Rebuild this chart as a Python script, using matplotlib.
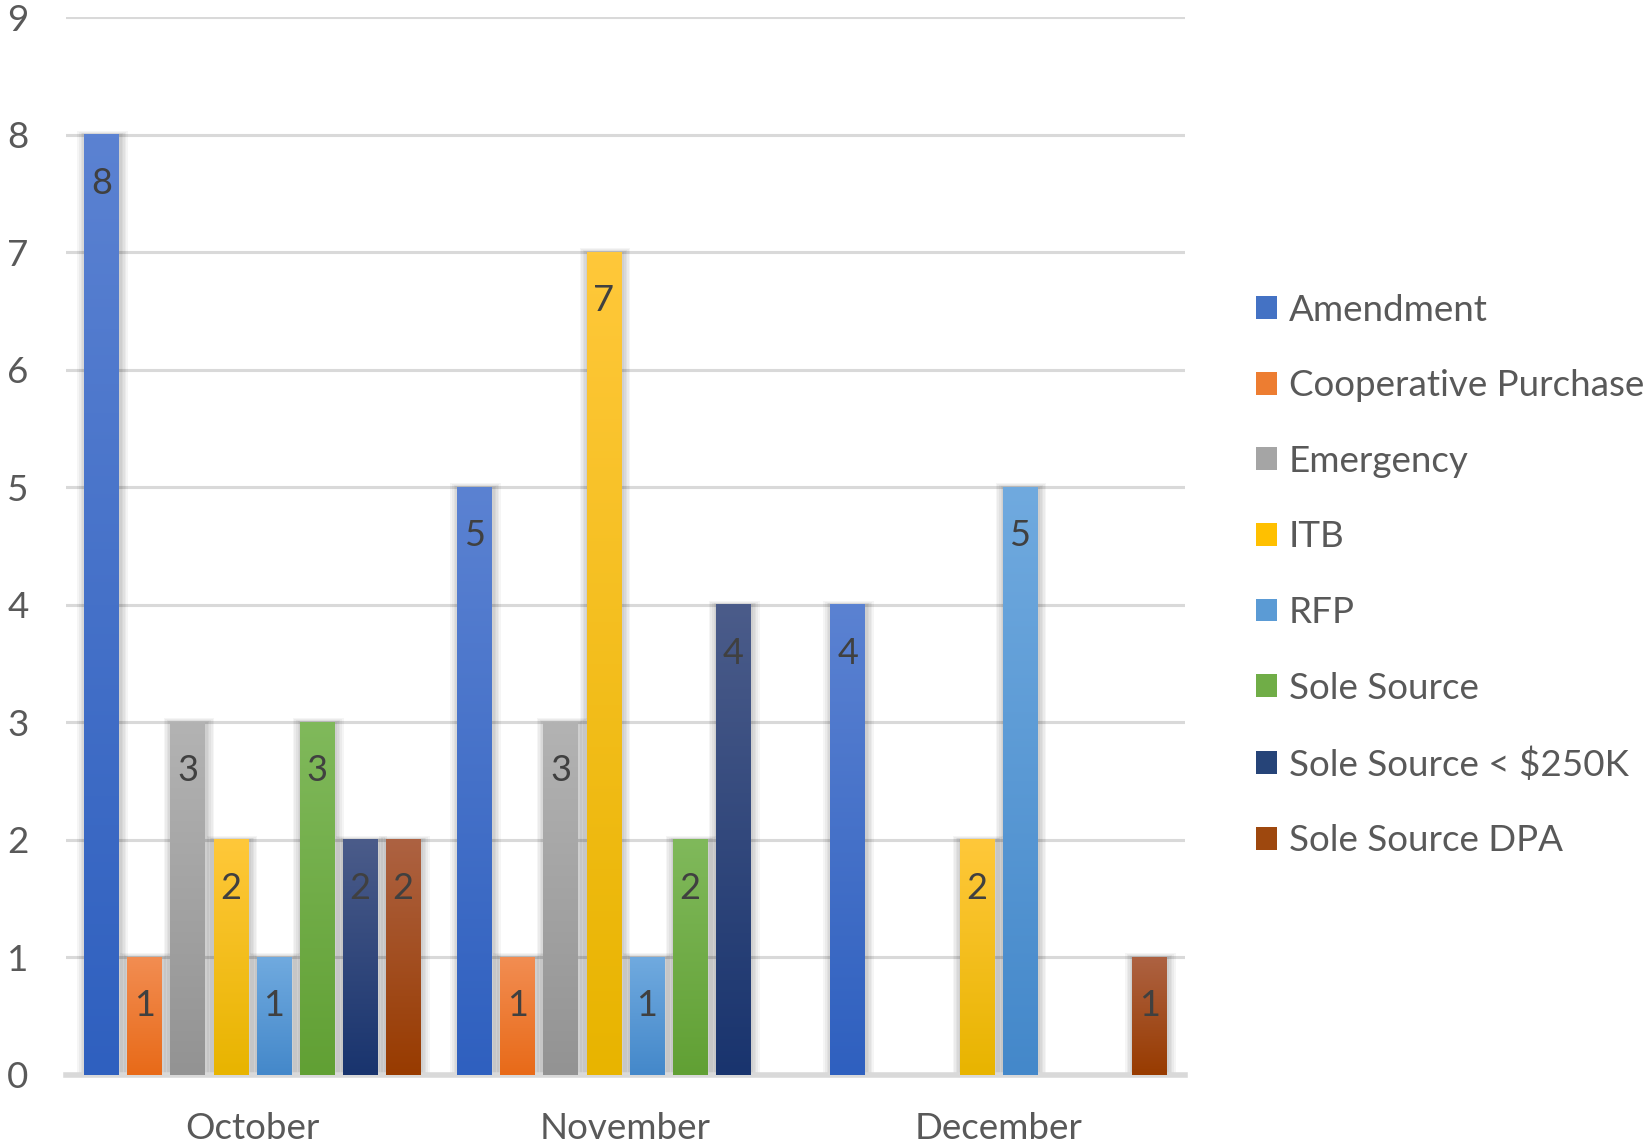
import numpy as np
import matplotlib.pyplot as plt
from matplotlib.colors import LinearSegmentedColormap
from matplotlib.patches import Patch, Rectangle

plt.rcParams['font.family'] = ['Lato', 'DejaVu Sans']

# data
months = ['October', 'November', 'December']
series = ['Amendment', 'Cooperative Purchase', 'Emergency', 'ITB', 'RFP',
          'Sole Source', 'Sole Source < $250K', 'Sole Source DPA']
amendment = [8, 5, 4]
coop = [1, 1, 0]
emergency = [3, 3, 0]
itb = [2, 7, 2]
rfp = [1, 1, 5]
sole = [3, 2, 0]
sole_250 = [2, 4, 0]
sole_dpa = [2, 0, 1]
values = [amendment, coop, emergency, itb, rfp, sole, sole_250, sole_dpa]

# office-like gradient colours, top -> bottom
top_cols = ['#5b82d2', '#f28d52', '#b3b3b3', '#ffc83a', '#70aadf', '#80b95b', '#4b5c8a', '#ad6242']
bot_cols = ['#2f60bf', '#e86a18', '#939393', '#e8b400', '#4488ca', '#61a034', '#19346e', '#983b00']
mid_cols = ['#4472c4', '#ed7d31', '#a5a5a5', '#ffc000', '#5b9bd5', '#70ad47', '#264478', '#9e480e']

fig = plt.figure(figsize=(16.48, 11.47), dpi=100)
ax = fig.add_axes([0.040, 0.0628, 0.679, 0.922])

x = np.arange(len(months))
step = 0.1155
width = 0.093

for i, vals in enumerate(values):
    pos = x + (i - 3.5) * step
    bars = ax.bar(pos, vals, width, color='none', zorder=3)
    cmap = LinearSegmentedColormap.from_list('g%d' % i, [bot_cols[i], top_cols[i]])
    for b, v in zip(bars, vals):
        if v == 0:
            continue
        x0 = b.get_x()
        w = b.get_width()
        # soft shadow
        for k in range(1, 6):
            dx = k * 1.6 / 373
            dy = k * 1.6 / 117.6
            ax.add_patch(Rectangle((x0 - dx + 0.003, 0), w + 2 * dx, v + dy * 0.5,
                                   color='black', alpha=0.04, lw=0, zorder=2))
        grad = np.linspace(0, 1, 256).reshape(-1, 1)
        ax.imshow(grad, extent=[x0, x0 + w, 0, v], origin='lower', cmap=cmap,
                  aspect='auto', zorder=3)
        ax.text(x0 + w / 2, v - 0.41, str(v), ha='center', va='center',
                fontsize=26, color='#404040', zorder=4)

ax.set_xlim(-0.5, 2.5)
ax.set_ylim(0, 9)
ax.set_aspect('auto')
ax.set_yticks(range(10))
ax.set_xticks(x)
ax.set_xticklabels(months)
ax.tick_params(axis='both', length=0, labelsize=26.5, colors='#595959')
ax.tick_params(axis='y', pad=27)
ax.tick_params(axis='x', pad=27)
ax.set_axisbelow(True)
ax.grid(axis='y', color='#d9d9d9', lw=2.2)
for s in ['top', 'right', 'left']:
    ax.spines[s].set_visible(False)
ax.spines['bottom'].set_color('#d9d9d9')
ax.spines['bottom'].set_linewidth(4)

handles = [Patch(facecolor=c, edgecolor='none') for c in mid_cols]
fig.legend(handles, series, loc='upper left', bbox_to_anchor=(0.762, 0.744),
           frameon=False, fontsize=26.5, labelcolor='#595959', handlelength=0.57,
           handleheight=0.57, handletextpad=0.33, labelspacing=1.157,
           borderpad=0, borderaxespad=0)

fig.savefig('out.png', dpi=100)
